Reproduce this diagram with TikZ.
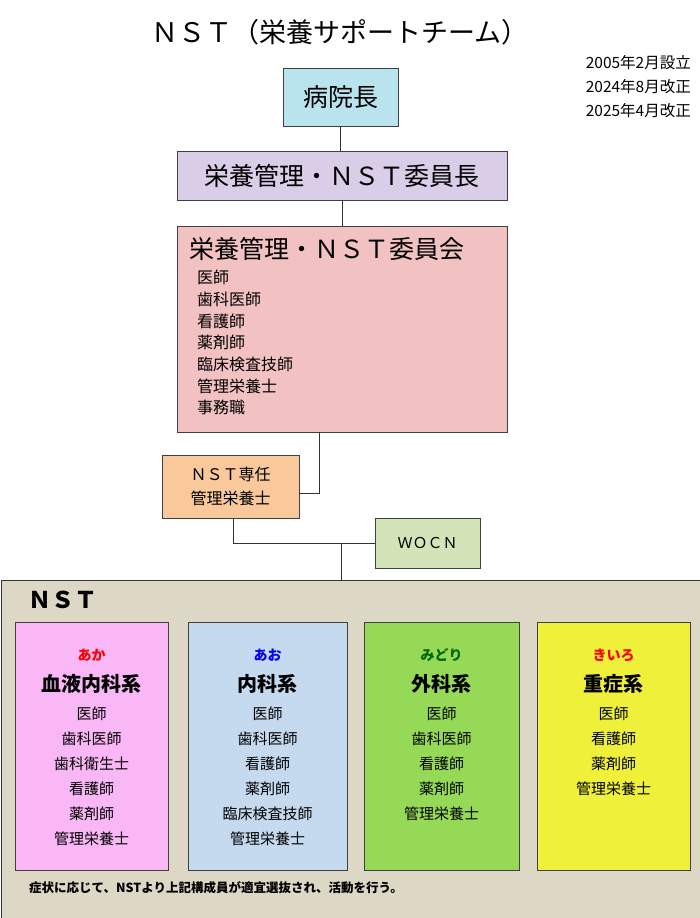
\documentclass[tikz,border=0pt]{standalone}
\usepackage{fontspec}
\setmainfont{Noto Sans CJK JP}
\newcommand{\fs}[2]{\fontsize{#1}{#2}\selectfont}
\begin{document}
\begin{tikzpicture}[x=1pt,y=-1pt,
  bx/.style={draw=black!75,line width=0.8pt},
  ln/.style={draw=black!80,line width=0.8pt}]
\useasboundingbox (0,0) rectangle (700,918);
\fill[white] (0,0) rectangle (700,918);
\node[font=\fs{27}{32}] (title) at (340,32) {ＮＳＴ（栄養サポートチーム）};
\node[font=\fs{15.5}{24},align=left,anchor=north east,inner sep=0pt] (dates) at (691,55) {2005年2月設立\\2024年8月改正\\2025年4月改正};
% boxes
\node[bx,fill={rgb,255:red,185;green,228;blue,238},minimum width=115pt,minimum height=58pt,font=\fs{25}{30}] (dir) at (340.5,97) {病院長};
\node[bx,fill={rgb,255:red,217;green,205;blue,232},minimum width=330pt,minimum height=49pt,font=\fs{25}{30}] (chair) at (342,175.5) {栄養管理・ＮＳＴ委員長};
\node[bx,fill={rgb,255:red,242;green,193;blue,193},minimum width=330pt,minimum height=206pt] (comm) at (342,329) {};
\node[font=\fs{25}{30},anchor=west,inner sep=0pt] (commt) at (189,249) {栄養管理・ＮＳＴ委員会};
\node[font=\fs{16}{21.7},anchor=north west,align=left,inner sep=0pt] (comml) at (197,270) {医師\\歯科医師\\看護師\\薬剤師\\臨床検査技師\\管理栄養士\\事務職};
\node[bx,fill={rgb,255:red,249;green,200;blue,155},minimum width=137pt,minimum height=63pt,font=\fs{16}{24},align=center] (sen) at (230.5,486.5) {ＮＳＴ専任\\管理栄養士};
\node[bx,fill={rgb,255:red,211;green,229;blue,184},minimum width=105pt,minimum height=50pt,font=\fs{15}{18}] (wocn) at (427.5,543) {ＷＯＣＮ};
% outer NST
\node[draw=black!80,line width=1.2pt,fill={rgb,255:red,221;green,215;blue,197},minimum width=699pt,minimum height=338pt,anchor=north west,inner sep=0pt] (nst) at (0.6,580) {};
\node[font=\bfseries\fs{23}{28},anchor=west,inner sep=0pt] (nstt) at (28,600) {ＮＳＴ};
% connectors
\draw[ln] (dir.south) -- (dir.south|-chair.north);
\draw[ln] (chair.south) -- (chair.south|-comm.north);
\coordinate (c1) at (319,432);
\coordinate (c2) at (299,493);
\draw[ln] (c1) -- (c1|-c2) -- (c2);
\coordinate (j) at (341,543);
\coordinate (s1) at (233,518);
\draw[ln] (s1) -- (s1|-j) -- (wocn.west);
\draw[ln] (j) -- (j|-nst.north);
% teams
\foreach \n/\x/\w/\c/\lc/\lab/\tt/\its in {
 a/15/153/{rgb,255:red,249;green,183;blue,245}/red/あか/血液内科系/{医師\\歯科医師\\歯科衛生士\\看護師\\薬剤師\\管理栄養士},
 b/188/159/{rgb,255:red,197;green,217;blue,239}/blue/あお/内科系/{医師\\歯科医師\\看護師\\薬剤師\\臨床検査技師\\管理栄養士},
 c/364/155/{rgb,255:red,150;green,217;blue,87}/green!40!black/みどり/外科系/{医師\\歯科医師\\看護師\\薬剤師\\管理栄養士},
 d/537/153/{rgb,255:red,238;green,240;blue,58}/red/きいろ/重症系/{医師\\看護師\\薬剤師\\管理栄養士}}{
 \node[bx,fill=\c,minimum width=\w pt,minimum height=248pt,anchor=north west,inner sep=0pt] (\n box) at (\x,622) {};
 \node[font=\bfseries\fs{14}{16},text=\lc,inner sep=0pt] (\n lab) at (\x+\w/2,655) {\lab};
 \node[font=\bfseries\fs{20}{24},inner sep=0pt] (\n tt) at (\x+\w/2,684) {\tt};
 \node[font=\fs{15}{25},align=center,inner sep=0pt,anchor=north] (\n it) at (\x+\w/2,707) {\its};
}
\node[font=\bfseries\fs{12.5}{15},anchor=west,inner sep=0pt] (note) at (29,888) {症状に応じて、NSTより上記構成員が適宜選抜され、活動を行う。};
\end{tikzpicture}
\end{document}
